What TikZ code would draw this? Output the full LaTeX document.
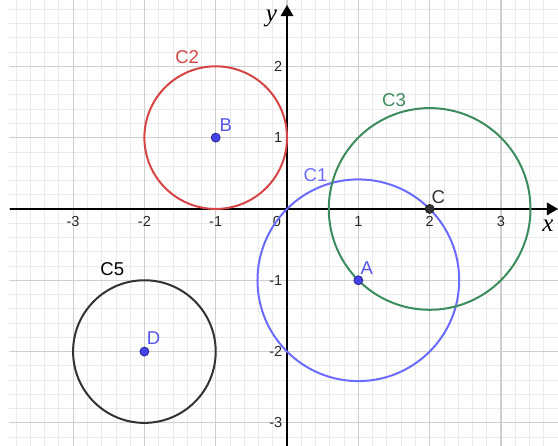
\documentclass[tikz,border=0pt]{standalone}
\usepackage{fontspec}
\setsansfont{Liberation Sans}
\newfontfamily\axisfont{Liberation Serif}
\usetikzlibrary{arrows.meta}
\definecolor{circ-blue}{HTML}{6B6BFF}
\definecolor{pt-blue}{HTML}{4343E8}
\definecolor{lbl-blue}{HTML}{5555E8}
\definecolor{circ-red}{HTML}{D64545}
\definecolor{circ-green}{HTML}{3C8C5E}
\definecolor{circ-dark}{HTML}{333333}
\definecolor{grid-major}{HTML}{CFCFCF}
\definecolor{grid-minor}{HTML}{EAEAEA}

\begin{document}
\begin{tikzpicture}[
        every node/.style={font=\sffamily\fontsize{7.4}{8}\selectfont, inner sep=0pt},
        ticklbl/.style={font=\sffamily\fontsize{5.8}{6.5}\selectfont, text=black!85},
        ptdot/.style={circle, minimum size=3.6pt, draw=#1!60!black, line width=0.3pt, fill=#1},
        circline/.style={line width=0.8pt, draw=#1}]
      \useasboundingbox (-4.025,-3.324) rectangle (3.80,2.93);
      % grid
      \draw[grid-minor, line width=0.3pt, step=0.2] (-3.9,-3.324) grid (3.80,2.93);
      \draw[grid-major, line width=0.45pt, step=1] (-3.9,-3.324) grid (3.80,2.93);
      % axes
      \coordinate (xstart) at (-3.89,0);
      \coordinate (xend) at (3.80,0);
      \coordinate (ystart) at (0,-3.324);
      \coordinate (yend) at (0,2.86);
      \draw[line width=0.6pt, -{Triangle[length=4.4pt, width=5pt]}] (xstart) -- (xend);
      \draw[line width=0.6pt, -{Triangle[length=4.4pt, width=5pt]}] (ystart) -- (yend);
      \node[font=\axisfont\itshape\fontsize{10}{11}\selectfont] (xlbl) at (3.66,-0.24) {x};
      \node[font=\axisfont\itshape\fontsize{10}{11}\selectfont] (ylbl) at (-0.22,2.67) {y};
      % tick labels
      \foreach \k in {-3,-2,-1,1,2,3}
        \node[ticklbl] (xt\k) at (\k,-0.17) {\k};
      \node[ticklbl] (xt0) at (-0.14,-0.17) {0};
      \foreach \k in {-3,-2,-1,1,2}
        \node[ticklbl, anchor=east] (yt\k) at (-0.06,\k) {\k};
      % circles
      \draw[circline=circ-blue] (1,-1) circle (1.4142);
      \draw[circline=circ-red] (-1,1) circle (1);
      \draw[circline=circ-green] (2,0) circle (1.4142);
      \draw[circline=circ-dark] (-2,-2) circle (1);
      % points
      \node[ptdot=pt-blue] (A) at (1,-1) {};
      \node[ptdot=pt-blue] (B) at (-1,1) {};
      \node[ptdot=circ-dark] (C) at (2,0) {};
      \node[ptdot=pt-blue] (D) at (-2,-2) {};
      % labels
      \node[text=lbl-blue] (Albl) at (1.12,-0.83) {A};
      \node[text=lbl-blue] (Blbl) at (-0.86,1.18) {B};
      \node[text=circ-dark] (Clbl) at (2.12,0.17) {C};
      \node[text=lbl-blue] (Dlbl) at (-1.87,-1.81) {D};
      \node[text=circ-blue] (C1lbl) at (0.40,0.47) {C1};
      \node[text=circ-red] (C2lbl) at (-1.40,2.13) {C2};
      \node[text=circ-green] (C3lbl) at (1.50,1.53) {C3};
      \node[text=black] (C5lbl) at (-2.45,-0.84) {C5};
    \end{tikzpicture}
\end{document}
